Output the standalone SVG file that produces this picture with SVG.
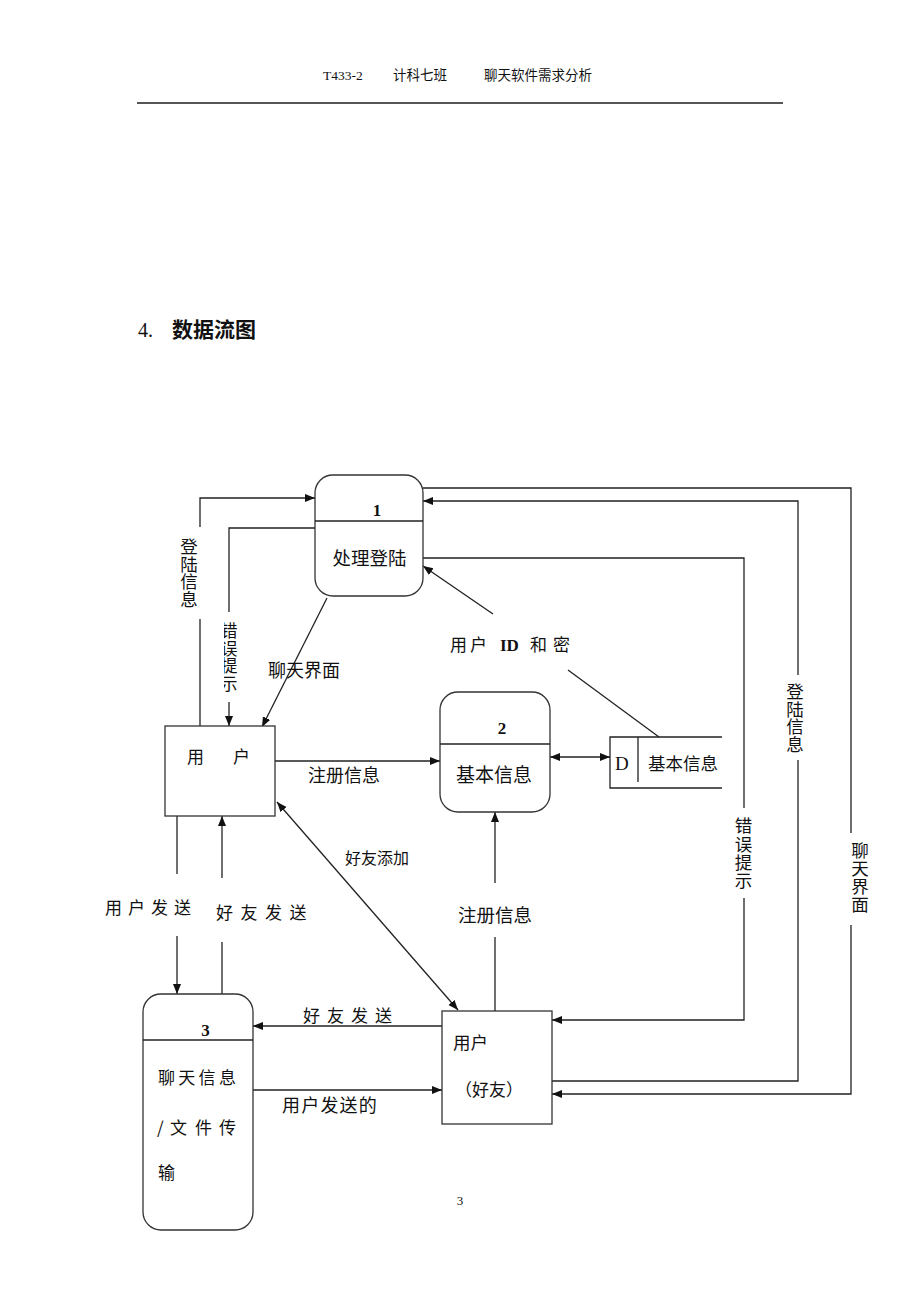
<svg xmlns="http://www.w3.org/2000/svg" width="920" height="1302" viewBox="0 0 920 1302">
<style>
.ln{fill:none;stroke:#222;stroke-width:1.3}
.box{fill:#fff;stroke:#333;stroke-width:1.3}
.cjk{font-family:"Noto Sans CJK SC","Noto Sans",sans-serif;fill:#111}
.ser{font-family:"Liberation Serif","Noto Sans CJK SC",serif;fill:#111}
.vt{writing-mode:vertical-rl;text-orientation:upright}
</style>
<defs>
<marker id="ah" markerUnits="userSpaceOnUse" markerWidth="11" markerHeight="9" refX="10" refY="4" orient="auto-start-reverse">
<path d="M0,0 L10,4 L0,8 z" fill="#111"/>
</marker>
<clipPath id="clipE"><rect x="224" y="600" width="30" height="110"/></clipPath>
</defs>
<rect width="920" height="1302" fill="#fff"/>

<g id="header">
<text class="ser" x="323" y="80" font-size="13.5">T433-2</text>
<text class="cjk" x="393" y="80" font-size="13.5">计科七班</text>
<text class="cjk" x="484" y="80" font-size="13.5">聊天软件需求分析</text>
<line x1="137" y1="103" x2="783" y2="103" stroke="#555" stroke-width="2"/>
</g>

<g id="title">
<text class="ser" x="138" y="337" font-size="20">4.</text>
<text class="cjk" x="172" y="337" font-size="21" font-weight="bold">数据流图</text>
</g>

<g id="connectors">
<path class="ln" d="M200,726 V619"/>
<path class="ln" d="M200,527 V498 H315" marker-end="url(#ah)"/>
<path class="ln" d="M315,528 H229 V612"/>
<path class="ln" d="M229,702 V726" marker-end="url(#ah)"/>
<path class="ln" d="M327,598 L262,727" marker-end="url(#ah)"/>
<path class="ln" d="M275,761 H440" marker-end="url(#ah)"/>
<path class="ln" d="M277,802 L458,1010" marker-start="url(#ah)" marker-end="url(#ah)"/>
<path class="ln" d="M177,816 V874"/>
<path class="ln" d="M177,936 V994" marker-end="url(#ah)"/>
<path class="ln" d="M222,994 V942"/>
<path class="ln" d="M222,878 V816" marker-end="url(#ah)"/>
<path class="ln" d="M442,1026 H253" marker-end="url(#ah)"/>
<path class="ln" d="M253,1090 H442" marker-end="url(#ah)"/>
<path class="ln" d="M495,1011 V937"/>
<path class="ln" d="M495,883 V812" marker-end="url(#ah)"/>
<path class="ln" d="M550,757 H610" stroke-width="2.2" marker-start="url(#ah)" marker-end="url(#ah)"/>
<path class="ln" d="M659,737 L568,670"/>
<path class="ln" d="M493,614 L423,566" marker-end="url(#ah)"/>
<path class="ln" d="M423,488 H851 V833"/>
<path class="ln" d="M851,925 V1094 H552" marker-end="url(#ah)"/>
<path class="ln" d="M552,1081 H798 V760"/>
<path class="ln" d="M798,675 V501 H423" marker-end="url(#ah)"/>
<path class="ln" d="M423,558 H744 V808"/>
<path class="ln" d="M744,898 V1020 H552" marker-end="url(#ah)"/>
</g>

<g id="connector-labels">
<text class="cjk vt" x="189" y="538" font-size="17.5">登陆信息</text>
<text class="cjk vt" x="229" y="622" font-size="17" letter-spacing="0.7" clip-path="url(#clipE)">错误提示</text>
<text class="cjk" x="268" y="676.5" font-size="18">聊天界面</text>
<text class="cjk" x="308" y="781.5" font-size="18">注册信息</text>
<text class="cjk" font-size="17" y="651"><tspan x="450">用</tspan><tspan x="470">户</tspan><tspan x="500" class="ser" font-weight="bold">ID</tspan><tspan x="530">和</tspan><tspan x="553">密</tspan></text>
<text class="cjk" x="345" y="864" font-size="16">好友添加</text>
<text class="cjk" x="105" y="914" font-size="17" letter-spacing="6">用户发送</text>
<text class="cjk" x="216" y="919" font-size="17" letter-spacing="7.5">好友发送</text>
<text class="cjk" x="458" y="921.5" font-size="18.5">注册信息</text>
<text class="cjk" x="303" y="1022" font-size="17" letter-spacing="7">好友发送</text>
<text class="cjk" x="282" y="1111.5" font-size="18" letter-spacing="1.2">用户发送的</text>
<text class="cjk vt" x="795" y="683" font-size="17.5">登陆信息</text>
<text class="cjk vt" x="743.5" y="817" font-size="17.5" letter-spacing="0.75">错误提示</text>
<text class="cjk vt" x="860" y="842" font-size="17.5" letter-spacing="0.25">聊天界面</text>
</g>

<g id="node1">
<rect class="box" x="315" y="475" width="108" height="121" rx="18"/>
<line class="ln" x1="315" y1="521" x2="423" y2="521"/>
<text class="ser" x="377" y="516" font-size="17" font-weight="bold" text-anchor="middle">1</text>
<text class="cjk" x="369.5" y="564.5" font-size="18.5" text-anchor="middle">处理登陆</text>
</g>

<g id="node2">
<rect class="box" x="440" y="692" width="110" height="120" rx="18"/>
<line class="ln" x1="440" y1="744" x2="550" y2="744"/>
<text class="ser" x="502" y="733.5" font-size="17" font-weight="bold" text-anchor="middle">2</text>
<text class="cjk" x="456" y="782" font-size="19">基本信息</text>
</g>

<g id="node3">
<rect class="box" x="143" y="994" width="110" height="236" rx="18"/>
<line class="ln" x1="143" y1="1040" x2="253" y2="1040"/>
<text class="ser" x="205.5" y="1035.5" font-size="17" font-weight="bold" text-anchor="middle">3</text>
<text class="cjk" x="158" y="1084" font-size="17" letter-spacing="3.3">聊天信息</text>
<text class="cjk" font-size="17" y="1134"><tspan x="157">/</tspan><tspan x="170">文</tspan><tspan x="195">件</tspan><tspan x="219">传</tspan></text>
<text class="cjk" x="158" y="1179" font-size="17">输</text>
</g>

<g id="user">
<rect class="box" x="165" y="726" width="110" height="90"/>
<text class="cjk" font-size="17" y="763"><tspan x="187">用</tspan><tspan x="233">户</tspan></text>
</g>

<g id="user-friend">
<rect class="box" x="442" y="1011" width="110" height="113"/>
<text class="cjk" x="453" y="1049" font-size="17.5">用户</text>
<text class="cjk" x="455" y="1096" font-size="17">（好友）</text>
</g>

<g id="datastore">
<path class="ln" d="M722,737 H610 V788 H722"/>
<line class="ln" x1="638" y1="737" x2="638" y2="782"/>
<text class="ser" x="615" y="770" font-size="19">D</text>
<text class="cjk" x="648" y="770" font-size="17.5">基本信息</text>
</g>

<g id="footer">
<text class="ser" x="460" y="1205" font-size="13" text-anchor="middle">3</text>
</g>
</svg>
